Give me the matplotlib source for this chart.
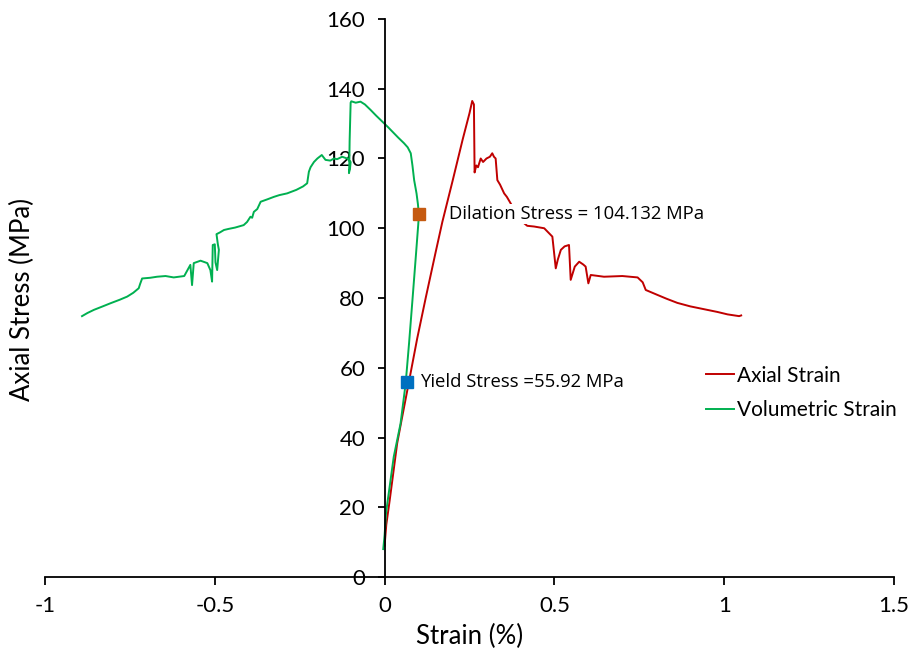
import matplotlib
matplotlib.use("Agg")
import matplotlib.pyplot as plt

plt.rcParams['font.family'] = ['Lato', 'DejaVu Sans']

# Axial strain (red)
axial_x = [0.0, 0.005, 0.015, 0.037, 0.05, 0.067, 0.096, 0.121, 0.15, 0.17, 0.20, 0.23, 0.25,
           0.258, 0.263, 0.265, 0.27, 0.275, 0.283, 0.29, 0.30, 0.31, 0.317, 0.322, 0.327,
           0.332, 0.34, 0.352, 0.36, 0.372, 0.39, 0.41, 0.42, 0.44, 0.47, 0.485, 0.494,
           0.504, 0.51, 0.519, 0.53, 0.543, 0.548, 0.56, 0.573, 0.585, 0.592, 0.6, 0.607,
           0.646, 0.70, 0.745, 0.76, 0.769, 0.803, 0.83, 0.862, 0.90, 0.94, 0.98, 1.01,
           1.044, 1.05]
axial_y = [9, 15, 22, 38.3, 45, 53.6, 68.4, 80, 93, 101.8, 113.5, 125.5, 133,
           136.5, 135.5, 116, 118, 117.5, 120, 119, 120, 120.5, 121.5, 120.5, 120,
           113.8, 112.5, 110, 109, 107, 104, 101.5, 100.7, 100.5, 100, 98.5, 97.6,
           88.5, 91, 93.8, 94.8, 95.2, 85.2, 89, 90.4, 89.6, 89, 84.2, 86.6,
           86.1, 86.3, 85.9, 84.5, 82.3, 80.9, 79.8, 78.6, 77.6, 76.8, 76, 75.3,
           74.8, 75]

# Volumetric strain (green)
vol_x = [-0.004, 0.0, 0.004, 0.008, 0.015, 0.027, 0.047, 0.062, 0.072, 0.082, 0.092, 0.099,
         0.101, 0.098, 0.094, 0.087, 0.082, 0.077, 0.068, 0.057, 0.04, 0.028, 0.01, -0.007,
         -0.025, -0.041, -0.058, -0.071, -0.085, -0.098, -0.1, -0.103, -0.104, -0.105,
         -0.102, -0.1, -0.11, -0.125, -0.14, -0.149, -0.16, -0.174, -0.185, -0.198, -0.208,
         -0.218, -0.223, -0.228, -0.24, -0.26, -0.287, -0.31, -0.326, -0.345, -0.365,
         -0.375, -0.385, -0.39, -0.395, -0.405, -0.415, -0.44, -0.46, -0.473, -0.485,
         -0.495, -0.491, -0.488, -0.493, -0.498, -0.5, -0.506, -0.508, -0.513, -0.522,
         -0.542, -0.562, -0.567, -0.572, -0.59, -0.621, -0.645, -0.67, -0.69, -0.714,
         -0.72, -0.724, -0.74, -0.758, -0.78, -0.807, -0.83, -0.856, -0.875, -0.891]
vol_y = [8, 12, 18, 21.1, 26, 34.5, 44, 55.5, 67, 79.4, 92, 101,
         104, 107, 110, 113.8, 118, 121.5, 123.2, 124.4, 126, 127.2, 129, 130.6,
         132.3, 133.9, 135.5, 136.3, 136, 136.4, 136, 125, 118, 115.8,
         117, 119, 120, 120.5, 119.8, 120, 119.4, 119.6, 121, 120, 119,
         117.5, 116.2, 112.9, 112, 111, 110, 109.5, 109, 108.3, 107.6,
         105.5, 104.7, 103, 103.3, 101.8, 100.9, 100.2, 99.8, 99.5, 98.8,
         98.3, 95.4, 93.8, 88, 90.2, 95.4, 95.2, 84.7, 88, 90,
         90.7, 90, 83.7, 89.5, 86.3, 85.9, 86.3, 86.1, 85.8, 85.6,
         84, 82.8, 81.5, 80.4, 79.5, 78.5, 77.6, 76.6, 75.7, 74.8]

yield_pt = (0.066, 55.92)
dilation_pt = (0.101, 104.132)
yield_label = "Yield Stress =55.92 MPa"
dilation_label = "Dilation Stress = 104.132 MPa"

xticks = [-1, -0.5, 0, 0.5, 1, 1.5]
xtick_labels = ["-1", "-0.5", "0", "0.5", "1", "1.5"]
yticks = [0, 20, 40, 60, 80, 100, 120, 140, 160]

fig = plt.figure(figsize=(9.1, 6.58), dpi=100)
ax = fig.add_axes([45/910, 1-577/658, (894-45)/910, (577-19)/658])

ax.plot(axial_x, axial_y, color='#C00000', lw=1.4, label='Axial Strain', zorder=2)
ax.plot(vol_x, vol_y, color='#00B050', lw=1.4, label='Volumetric Strain', zorder=2)

ax.plot([yield_pt[0]], [yield_pt[1]], marker='s', ms=8, color='#0070C0', ls='none', zorder=4)
ax.plot([dilation_pt[0]], [dilation_pt[1]], marker='s', ms=8, color='#C55A11', ls='none', zorder=4)

ax.text(0.103, yield_pt[1], yield_label, family=['Open Sans', 'DejaVu Sans'], fontsize=13.3,
        va='center', ha='left', zorder=5,
        bbox=dict(facecolor='white', edgecolor='none', pad=0.5))
ax.text(0.19, dilation_pt[1], dilation_label, family=['Open Sans', 'DejaVu Sans'], fontsize=13.3,
        va='center', ha='left', zorder=5,
        bbox=dict(facecolor='white', edgecolor='none', pad=0.5))

ax.set_xlim(-1, 1.5)
ax.set_ylim(0, 160)
ax.spines['left'].set_position(('data', 0))
ax.spines['bottom'].set_position(('data', 0))
ax.spines['top'].set_visible(False)
ax.spines['right'].set_visible(False)
for s in ('left', 'bottom'):
    ax.spines[s].set_linewidth(1.3)
    ax.spines[s].set_color('black')

ax.set_xticks(xticks)
ax.set_xticklabels(xtick_labels)
ax.set_yticks(yticks)
ax.tick_params(axis='x', direction='out', length=6, width=1.3, pad=8, labelsize=16)
ax.tick_params(axis='y', direction='out', length=5, width=1.3, pad=9, labelsize=16)

fig.text(22/910, 1-299/658, 'Axial Stress (MPa)', rotation=90, ha='center', va='center', fontsize=18.5)
fig.text(470/910, 1-636/658, 'Strain (%)', ha='center', va='center', fontsize=18.5)

leg = ax.legend(loc='center left', bbox_to_anchor=(706/910, 1-393/658),
                bbox_transform=fig.transFigure, frameon=False, fontsize=15,
                handlelength=1.35, handletextpad=0.15, labelspacing=0.7,
                borderpad=0, borderaxespad=0)

fig.savefig('out.png', dpi=100)
